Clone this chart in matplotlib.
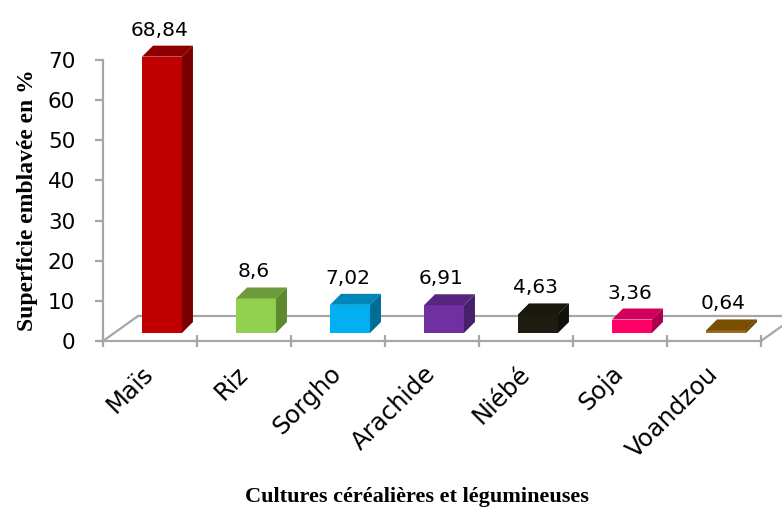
import matplotlib
matplotlib.use('Agg')
import matplotlib.pyplot as plt
from matplotlib.patches import Polygon
from matplotlib.transforms import ScaledTranslation

plt.rcParams['font.family'] = ['DejaVu Sans']

categories = ['Maïs', 'Riz', 'Sorgho', 'Arachide', 'Niébé', 'Soja', 'Voandzou']
values = [68.84, 8.6, 7.02, 6.91, 4.63, 3.36, 0.64]
value_labels = ['68,84', '8,6', '7,02', '6,91', '4,63', '3,36', '0,64']
yticks = [0, 10, 20, 30, 40, 50, 60, 70]

front_colors = ['#C00000', '#92D050', '#00B0F0', '#7030A0', '#1E1C10', '#FF0066', '#9A6E1E']
side_colors = ['#780000', '#5E8A2E', '#006D95', '#47206A', '#11100A', '#A8004A', '#5E3E00']
top_colors = ['#8E0000', '#6E9B3A', '#0087B8', '#56267E', '#1A180E', '#D2005A', '#7A5000']
grey = '#A6A6A6'

W, H = 782, 512
fig = plt.figure(figsize=(W / 100, H / 100), dpi=100)
ax = fig.add_axes([103 / W, (H - 341) / H, 658 / W, 281 / H])
ax.set_xlim(0, 7)
ax.set_ylim(0, 70)

px_x = 658 / 7.0   # pixels per x unit
px_y = 281 / 70.0  # pixels per y unit

# floor depth (3D look)
FDX, FDY = 35 / px_x, 25 / px_y
# bar depth
BDX, BDY = 11 / px_x, 11 / px_y
BASE = 8 / px_y
X0, BW = 0.415, 0.425

ax.plot([FDX, 7 + FDX], [FDY, FDY], color=grey, lw=1.6, clip_on=False, zorder=1)
ax.plot([0, FDX], [0, FDY], color=grey, lw=1.6, clip_on=False, zorder=1)
ax.plot([7, 7 + FDX], [0, FDY], color=grey, lw=1.6, clip_on=False, zorder=1)

for i, v in enumerate(values):
    x0 = i + X0
    x1 = x0 + BW
    top = BASE + v
    ax.bar(x0, v, width=BW, bottom=BASE, align='edge', color=front_colors[i],
           linewidth=0, zorder=3, clip_on=False)
    ax.add_patch(Polygon([(x0, top), (x1, top), (x1 + BDX, top + BDY), (x0 + BDX, top + BDY)],
                         closed=True, facecolor=top_colors[i], edgecolor='none', zorder=3, clip_on=False))
    ax.add_patch(Polygon([(x1, BASE), (x1 + BDX, BASE + BDY), (x1 + BDX, top + BDY), (x1, top)],
                         closed=True, facecolor=side_colors[i], edgecolor='none', zorder=3, clip_on=False))
    ax.annotate(value_labels[i], xy=(i + 0.6, top + BDY), xytext=(0, 10),
                textcoords='offset pixels', ha='center', va='baseline',
                fontsize=14.5, color='black', zorder=5, annotation_clip=False)

for s in ['top', 'right']:
    ax.spines[s].set_visible(False)
for s in ['left', 'bottom']:
    ax.spines[s].set_color(grey)
    ax.spines[s].set_linewidth(1.6)

ax.set_yticks(yticks)
ax.set_yticklabels([str(t) for t in yticks], fontsize=15.5)
ax.tick_params(axis='y', direction='out', length=6, width=1.6, color=grey, pad=14)

ax.set_xticks([i + 0.5 for i in range(len(categories))])
ax.set_xticks(range(0, len(categories) + 1), minor=True)
ax.tick_params(axis='x', which='major', length=0, pad=21)
ax.tick_params(axis='x', which='minor', direction='inout', length=8, width=1.6, color=grey)
ax.set_xticklabels(categories, fontsize=17.5, rotation=45, ha='right', va='center',
                   rotation_mode='anchor')
for lab in ax.get_xticklabels():
    lab.set_transform(lab.get_transform() + ScaledTranslation(0, 0, fig.dpi_scale_trans))

fig.text(28 / W, 1 - 200 / H, 'Superficie emblavée en %', rotation=90, ha='center', va='center',
         fontsize=17, fontweight='bold', family='Liberation Serif')
fig.text(417 / W, 1 - 497 / H, 'Cultures céréalières et légumineuses', ha='center', va='center',
         fontsize=16, fontweight='bold', family='Liberation Serif')

fig.savefig('out.png', dpi=100)
